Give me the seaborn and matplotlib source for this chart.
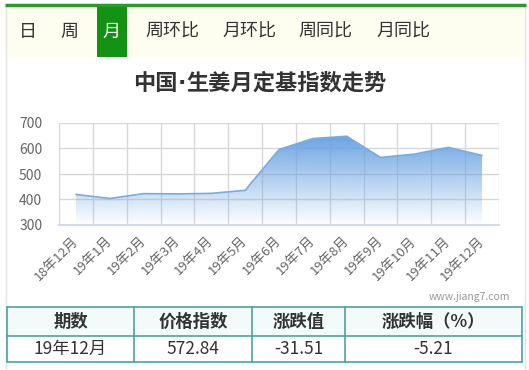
import numpy as np
import pandas as pd
import matplotlib
matplotlib.use('Agg')
import matplotlib.pyplot as plt
import matplotlib.patches as mpatches
import seaborn as sns

# data
months = ['18年12月', '19年1月', '19年2月', '19年3月', '19年4月', '19年5月', '19年6月',
          '19年7月', '19年8月', '19年9月', '19年10月', '19年11月', '19年12月']
index_values = [420, 404, 423, 422, 424, 436, 596, 639, 648, 565, 578, 604.35, 572.84]
tabs = ['日', '周', '月', '周环比', '月环比', '周同比', '月同比']
tab_x = [28, 69, 111, 172, 249, 325, 403]
active_tab = '月'
title_parts = ['中国', '·', '生姜月定基指数走势']
table_header = ['期数', '价格指数', '涨跌值', '涨跌幅（%）']
table_row = ['19年12月', '572.84', '-31.51', '-5.21']
col_edges = [7, 134, 252, 345, 522]

sns.set_theme(style='white')
plt.rcParams['font.family'] = ['Noto Sans CJK SC', 'DejaVu Sans']

W, H = 529, 370
fig = plt.figure(figsize=(W / 100, H / 100), dpi=100)
fig.patch.set_facecolor('white')

# page layer in pixel coords
bg = fig.add_axes([0, 0, 1, 1])
bg.set_xlim(0, W)
bg.set_ylim(H, 0)
bg.axis('off')

# frame + tab bar
bg.add_patch(mpatches.Rectangle((6, 6), 519, 51, facecolor='#fdfdf0', edgecolor='none'))
bg.plot([6, 6], [4, H], color='#e4e4e4', lw=1)
bg.plot([525, 525], [4, H], color='#e4e4e4', lw=1)
bg.plot([5, 526], [5, 5], color='#2a9a2a', lw=2.5, solid_capstyle='butt')
for t, x in zip(tabs, tab_x):
    if t == active_tab:
        bg.add_patch(mpatches.Rectangle((97, 6), 30, 51, facecolor='#139213', edgecolor='none'))
        bg.text(x, 32, t, color='white', fontsize=13, ha='center', va='center')
    else:
        bg.text(x, 32, t, color='#333333', fontsize=13, ha='center', va='center')

# title: the middle dot is narrow in the reference, so draw it in DejaVu
renderer = fig.canvas.get_renderer()
x = 133
for part in title_parts:
    fam = ['DejaVu Sans'] if part == '·' else ['Noto Sans CJK SC', 'DejaVu Sans']
    t = bg.text(x, 83, part, fontsize=16, fontweight='bold', color='#333333',
                ha='left', va='center', family=fam)
    bb = t.get_window_extent(renderer=renderer)
    x += bb.width * W / fig.bbox.width

bg.text(510, 297, 'www.jiang7.com', fontsize=7.5, color='#999999', ha='right', va='center')

# table
top, mid, bot = 307, 336, 362
bg.add_patch(mpatches.Rectangle((col_edges[0], top), col_edges[-1] - col_edges[0], mid - top,
                                facecolor='#f2fbf9', edgecolor='none'))
border = '#4aa3a3'
for y in (top, mid, bot):
    bg.plot([col_edges[0], col_edges[-1]], [y, y], color=border, lw=1.2)
for xe in col_edges:
    bg.plot([xe, xe], [top, bot], color=border, lw=1.2)
for i in range(len(table_header)):
    cx = (col_edges[i] + col_edges[i + 1]) / 2
    bg.text(cx, (top + mid) / 2, table_header[i], fontsize=12.5, fontweight='bold',
            color='#333333', ha='center', va='center')
    bg.text(cx, (mid + bot) / 2, table_row[i], fontsize=12.5, color='#333333',
            ha='center', va='center')

# chart
ax = fig.add_axes([59 / W, 1 - 225 / H, 440 / W, 102 / H])
df = pd.DataFrame({'pos': np.arange(len(months)), 'value': index_values})
ax.set_facecolor('none')

poly = ax.fill_between(df['pos'], df['value'], 300, color='none', lw=0)
grad = np.zeros((256, 1, 4))
grad[:, 0, 0] = 108 / 255
grad[:, 0, 1] = 164 / 255
grad[:, 0, 2] = 226 / 255
grad[:, 0, 3] = np.linspace(1.0, 0.0, 256)
img = ax.imshow(grad, extent=[-0.5, len(months) - 0.5, 300, max(index_values)],
                aspect='auto', origin='upper', zorder=2)
img.set_clip_path(poly.get_paths()[0], transform=ax.transData)
sns.lineplot(data=df, x='pos', y='value', ax=ax, color='#7aacde', lw=1.2, zorder=3)
ax.set_xlim(-0.5, len(months) - 0.5)
ax.set_ylim(300, 700)

ax.set_yticks([300, 400, 500, 600, 700])
ax.set_xticks(df['pos'])
ax.set_xticklabels(months, rotation=45, ha='right', va='center', rotation_mode='anchor',
                   fontsize=9.5, color='#666666')
ax.set_xticks(np.arange(-0.5, len(months)), minor=True)
ax.tick_params(axis='x', which='major', length=0, pad=10)
ax.tick_params(axis='x', which='minor', length=9, color='#ccd6eb', width=1)
ax.tick_params(axis='y', length=0, pad=12, labelsize=10, labelcolor='#666666')
ax.grid(True, axis='y', color='#d8d8d8', lw=1)
ax.grid(True, axis='x', which='minor', color='#d8d8d8', lw=1)
ax.set_axisbelow(True)
for s in ['top', 'right', 'left']:
    ax.spines[s].set_visible(False)
ax.spines['bottom'].set_color('#ccd6eb')
ax.set_xlabel('')
ax.set_ylabel('')

fig.savefig('out.png', dpi=100)
